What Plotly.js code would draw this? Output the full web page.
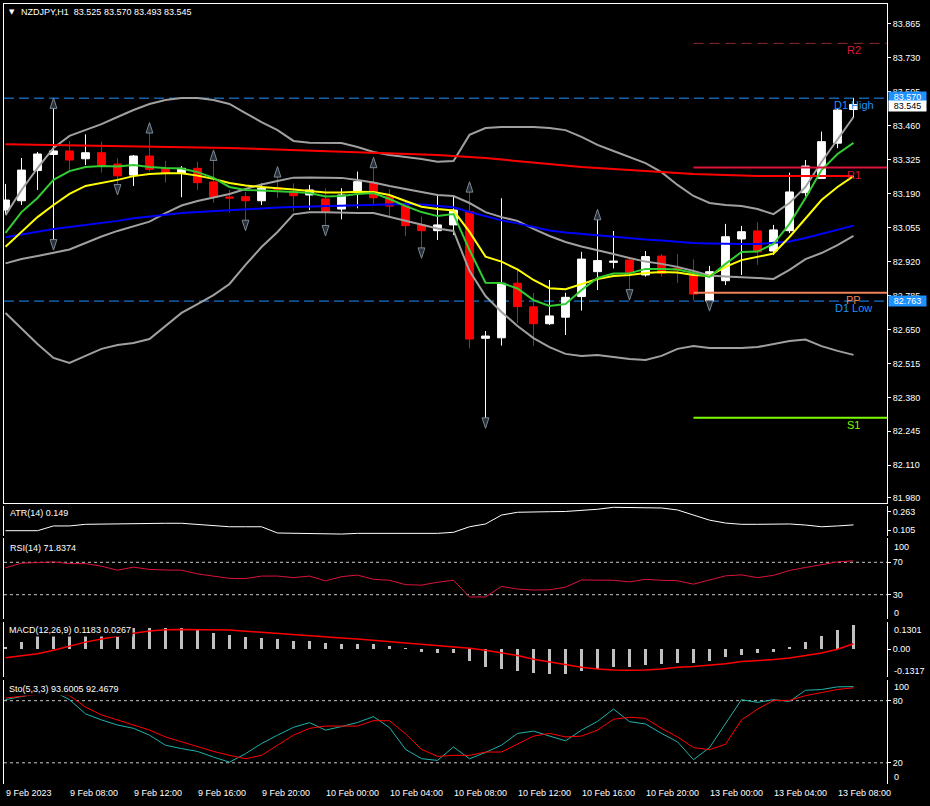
<!DOCTYPE html>
<html><head><meta charset="utf-8">
<script src="https://cdn.plot.ly/plotly-3.0.1.min.js"></script>
<style>html,body{margin:0;padding:0;background:#000;overflow:hidden}#chart{width:930px;height:806px}</style>
</head><body><div id="chart"></div>
<script>
// ---------------- DATA ----------------
const symbolTitle = 'NZDJPY,H1';
const timeLabels = ['9 Feb 2023','9 Feb 08:00','9 Feb 12:00','9 Feb 16:00','9 Feb 20:00','10 Feb 00:00','10 Feb 04:00','10 Feb 08:00','10 Feb 12:00','10 Feb 16:00','10 Feb 20:00','13 Feb 00:00','13 Feb 04:00','13 Feb 08:00'];
const timeLabelBars = [0,4,8,12,16,20,24,28,32,36,40,44,48,52];

const open  = [83.125,83.162,83.282,83.346,83.360,83.329,83.353,83.308,83.264,83.340,
               83.291,83.272,83.291,83.237,83.177,83.178,83.162,83.213,83.198,83.185,
               83.169,83.129,83.201,83.234,83.178,83.141,83.066,83.043,83.066,83.119,
               82.615,82.617,82.834,82.740,82.673,82.699,82.781,82.880,82.917,82.926,
               82.867,82.942,82.895,82.876,82.763,82.844,83.010,83.042,82.962,83.043,
               83.194,83.251,83.391,83.525];
const high  = [83.229,83.332,83.356,83.531,83.400,83.426,83.397,83.331,83.344,83.433,
               83.321,83.300,83.317,83.324,83.205,83.198,83.231,83.258,83.231,83.225,
               83.212,83.212,83.278,83.295,83.208,83.158,83.099,83.189,83.177,83.198,
               82.644,83.172,82.893,82.796,82.847,82.796,82.959,83.088,83.042,82.934,
               82.962,82.950,82.950,82.929,82.903,83.070,83.062,83.076,83.066,83.274,
               83.324,83.437,83.531,83.570];
const low   = [83.109,83.145,83.205,83.006,83.284,83.304,83.274,83.225,83.221,83.278,
               83.234,83.176,83.205,83.154,83.115,83.083,83.145,83.173,83.119,83.125,
               83.062,83.088,83.132,83.149,83.101,83.022,82.973,83.006,83.026,82.575,
               82.297,82.586,82.675,82.586,82.668,82.628,82.725,82.807,82.893,82.807,
               82.860,82.860,82.835,82.765,82.763,82.827,82.867,82.907,82.946,83.033,
               83.181,83.249,83.371,83.493];
const close = [83.165,83.284,83.348,83.360,83.324,83.353,83.304,83.261,83.340,83.287,
               83.271,83.291,83.234,83.178,83.173,83.162,83.212,83.207,83.182,83.205,
               83.119,83.185,83.238,83.174,83.141,83.063,83.043,83.066,83.125,82.612,
               82.624,82.834,82.741,82.673,82.704,82.778,82.930,82.924,82.922,82.876,
               82.940,82.874,82.887,82.791,82.880,83.019,83.039,82.959,83.046,83.197,
               83.300,83.397,83.523,83.545];

const maRed    = [83.387,83.386,83.386,83.385,83.384,83.384,83.383,83.381,83.380,83.379,
                  83.378,83.376,83.375,83.373,83.372,83.370,83.368,83.366,83.364,83.362,
                  83.360,83.358,83.356,83.354,83.352,83.350,83.348,83.344,83.340,83.337,
                  83.332,83.326,83.320,83.314,83.308,83.300,83.296,83.292,83.288,83.282,
                  83.278,83.274,83.271,83.268,83.266,83.263,83.262,83.260,83.260,83.260,
                  83.260,83.260,83.260,83.260];
const maBlue   = [83.017,83.028,83.040,83.050,83.058,83.066,83.072,83.082,83.092,83.099,
                  83.107,83.113,83.117,83.121,83.125,83.129,83.132,83.135,83.137,83.139,
                  83.141,83.143,83.145,83.147,83.149,83.149,83.147,83.143,83.136,83.117,
                  83.099,83.084,83.072,83.058,83.044,83.036,83.030,83.024,83.019,83.014,
                  83.008,83.004,82.999,82.994,82.992,82.990,82.990,82.990,82.994,83.000,
                  83.014,83.030,83.046,83.063];
const maYellow = [82.979,83.038,83.097,83.145,83.189,83.221,83.233,83.245,83.260,83.268,
                  83.271,83.271,83.262,83.249,83.233,83.223,83.217,83.213,83.207,83.201,
                  83.195,83.195,83.198,83.197,83.185,83.161,83.138,83.129,83.123,83.038,
                  82.940,82.920,82.889,82.847,82.814,82.810,82.831,82.851,82.863,82.867,
                  82.875,82.879,82.877,82.867,82.863,82.899,82.926,82.938,82.952,83.018,
                  83.093,83.165,83.217,83.260];
const maGreen  = [83.034,83.117,83.173,83.245,83.280,83.296,83.300,83.298,83.304,83.296,
                  83.292,83.290,83.276,83.253,83.217,83.205,83.203,83.201,83.197,83.193,
                  83.179,83.181,83.189,83.193,83.169,83.141,83.117,83.101,83.109,82.966,
                  82.836,82.835,82.813,82.767,82.744,82.751,82.807,82.855,82.873,82.874,
                  82.891,82.891,82.889,82.875,82.859,82.911,82.958,82.960,82.990,83.070,
                  83.173,83.284,83.348,83.392];
const bbUpper  = [83.105,83.205,83.292,83.372,83.420,83.443,83.467,83.495,83.523,83.547,
                  83.563,83.571,83.571,83.563,83.547,83.511,83.475,83.443,83.400,83.393,
                  83.393,83.392,83.376,83.356,83.344,83.336,83.328,83.317,83.320,83.424,
                  83.451,83.455,83.455,83.455,83.451,83.443,83.416,83.384,83.360,83.336,
                  83.312,83.276,83.225,83.181,83.153,83.145,83.141,83.129,83.109,83.153,
                  83.217,83.316,83.408,83.495];
const bbMiddle = [82.913,82.930,82.942,82.954,82.968,82.994,83.020,83.042,83.060,83.079,
                  83.113,83.143,83.161,83.175,83.189,83.209,83.227,83.241,83.254,83.255,
                  83.255,83.253,83.245,83.235,83.221,83.209,83.197,83.185,83.181,83.153,
                  83.117,83.097,83.082,83.050,83.022,82.998,82.980,82.966,82.950,82.934,
                  82.920,82.911,82.899,82.883,82.865,82.861,82.859,82.855,82.851,82.887,
                  82.930,82.954,82.986,83.022];
const bbLower  = [82.716,82.656,82.592,82.537,82.517,82.545,82.573,82.588,82.596,82.612,
                  82.664,82.716,82.751,82.787,82.831,82.907,82.978,83.038,83.108,83.116,
                  83.116,83.113,83.113,83.113,83.097,83.082,83.066,83.052,83.042,82.883,
                  82.783,82.720,82.664,82.616,82.580,82.553,82.545,82.549,82.541,82.533,
                  82.529,82.545,82.573,82.584,82.576,82.576,82.576,82.580,82.592,82.604,
                  82.610,82.584,82.565,82.549];

const fractalUpBars   = [3, 9, 13, 17, 23, 29, 37];
const fractalDownBars = [3, 7, 15, 20, 26, 30, 39, 44];

const d1High = 83.570, d1Low = 82.763;
const pivotR2 = 83.788, pivotR1 = 83.294, pivotPP = 82.796, pivotS1 = 82.299;
const pivotStartBar = 43;

const priceTicks = [83.865,83.730,83.595,83.460,83.325,83.190,83.055,82.920,82.785,82.650,82.515,82.380,82.245,82.110,81.980];

const atr = [0.099,0.099,0.099,0.140,0.140,0.154,0.157,0.157,0.163,0.163,
             0.163,0.163,0.154,0.146,0.133,0.133,0.133,0.079,0.076,0.070,
             0.070,0.070,0.076,0.076,0.076,0.076,0.076,0.076,0.085,0.133,
             0.157,0.234,0.258,0.263,0.263,0.265,0.275,0.284,0.301,0.301,
             0.301,0.295,0.278,0.234,0.190,0.165,0.154,0.154,0.154,0.157,
             0.148,0.133,0.140,0.149];
const rsi = [63.2,69,69.6,70.5,68.4,68.4,65.2,60.3,64,61.2,
             60.5,60.3,55.7,52.7,50.2,49.9,53,53,51.1,53,
             47,52.3,54.2,49,47.8,42.4,41.8,45.4,47.8,27.2,
             27.2,40.2,37,35.7,36.1,39.3,48.2,48,47.8,45.8,
             49,47.8,47.2,43,47.8,53.3,54.5,51.1,53.9,59.9,
             63.6,66.6,70.5,71.8];
const macdMain = [0.013,0.037,0.070,0.085,0.092,0.098,0.102,0.104,0.104,0.102,
                  0.102,0.102,0.094,0.081,0.070,0.058,0.054,0.049,0.042,0.042,
                  0.032,0.026,0.026,0.026,0.016,0.005,-0.011,-0.016,-0.016,-0.055,
                  -0.084,-0.097,-0.104,-0.117,-0.122,-0.122,-0.104,-0.097,-0.084,-0.084,
                  -0.076,-0.071,-0.068,-0.068,-0.055,-0.039,-0.028,-0.019,-0.011,0.013,
                  0.037,0.065,0.094,0.118];
const macdSignal = [-0.041,-0.033,-0.022,-0.005,0.015,0.035,0.050,0.065,0.078,0.089,
                    0.095,0.097,0.097,0.097,0.094,0.088,0.082,0.077,0.071,0.066,
                    0.061,0.055,0.050,0.044,0.038,0.032,0.026,0.020,0.013,0.005,
                    -0.005,-0.016,-0.030,-0.048,-0.062,-0.076,-0.087,-0.096,-0.101,-0.102,
                    -0.101,-0.096,-0.088,-0.084,-0.078,-0.070,-0.060,-0.056,-0.050,-0.042,
                    -0.030,-0.018,0.000,0.027];
const stoMain = [81,84,87,89,81,67.3,61.4,56.5,53.3,46.7,
                 37,33.7,31,25.5,20.6,28.8,38.6,46.7,54.3,58.8,
                 51.6,55,59,64.6,54,33,24,22.3,35.3,23.9,
                 30,37,48.4,50.6,46,41.2,51.6,60,71.9,59.8,
                 57.5,48.4,40.2,23,34.7,58.2,81,78.4,81,79.3,
                 90.1,90.8,93.4,93.6];
const stoSignal = [82.6,84.5,86,87.5,85,73.8,66.3,61.4,56.5,51.6,
                   45,40.2,35.3,31,27.2,23.9,27.2,37,46.7,53.3,
                   55.5,55.5,55.5,60.7,60.7,48,33,26.2,27.2,27.2,
                   30.4,30.4,37.9,45.8,48.4,45,45.8,51.6,62.1,64,
                   63,53.3,45,34.7,32.7,37.9,61.4,71.9,80.3,80.3,
                   84.9,88.1,90.8,92.5];

// ---------------- LAYOUT HELPERS ----------------
const W = 930, H = 806;
const FONT = 'Liberation Sans, Arial, sans-serif';
const py = v => 1 - v / H;
const bars = close.map((_, i) => i);
const xLeft = -0.094, xRight = 55.094;
const fractalGap = 0.04;
const n = close.length;

function frame(extra) {
  return Object.assign({showline:true, mirror:true, linecolor:'#FFFFFF', linewidth:1,
    showgrid:false, zeroline:false, fixedrange:true, type:'linear'}, extra);
}
const tickFont = {family:FONT, size:9, color:'#FFFFFF'};

const traces = [];
traces.push({type:'candlestick', x:bars, open:open, high:high, low:low, close:close,
  xaxis:'x', yaxis:'y', hoverinfo:'skip', showlegend:false,
  increasing:{line:{color:'#FFFFFF', width:1}, fillcolor:'#FFFFFF'},
  decreasing:{line:{color:'#FF0000', width:1}, fillcolor:'#FF0000'}});
const line = (y, color, width, axis) => ({type:'scatter', mode:'lines', x:bars, y:y,
  xaxis:'x', yaxis:axis || 'y', line:{color:color, width:width}, hoverinfo:'skip', showlegend:false});
traces.push(line(bbUpper, '#A0A0A0', 2));
traces.push(line(bbMiddle, '#A0A0A0', 2));
traces.push(line(bbLower, '#A0A0A0', 2));
traces.push(line(maRed, '#FF0000', 2));
traces.push(line(maBlue, '#0000FF', 2));
traces.push(line(maYellow, '#FFFF00', 2));
traces.push(line(maGreen, '#32CD32', 2));

traces.push({type:'scatter', mode:'markers', x:fractalUpBars, y:fractalUpBars.map(i => high[i] + fractalGap),
  xaxis:'x', yaxis:'y', hoverinfo:'skip', showlegend:false,
  marker:{symbol:'arrow', size:11, angle:0, color:'#283038', line:{color:'#7C8896', width:1}}});
traces.push({type:'scatter', mode:'markers', x:fractalDownBars, y:fractalDownBars.map(i => low[i] - fractalGap),
  xaxis:'x', yaxis:'y', hoverinfo:'skip', showlegend:false,
  marker:{symbol:'arrow', size:11, angle:180, color:'#283038', line:{color:'#7C8896', width:1}}});

const pivot = (lvl, color, width, dash) => ({type:'scatter', mode:'lines', x:[pivotStartBar, xRight], y:[lvl, lvl],
  xaxis:'x', yaxis:'y', line:{color:color, width:width, dash:dash || 'solid'}, hoverinfo:'skip', showlegend:false});
traces.push(pivot(pivotR2, '#8E2A30', 1, '10px,6px'));
traces.push(pivot(pivotR1, '#DC143C', 2));
traces.push(pivot(pivotPP, '#F4805A', 2));
traces.push(pivot(pivotS1, '#7CFC00', 2));

traces.push(line(atr, '#FFFFFF', 1, 'y2'));
traces.push(line(rsi, '#DC143C', 1, 'y3'));
traces.push({type:'bar', x:bars, y:macdMain, xaxis:'x', yaxis:'y4', width:0.19,
  marker:{color:'#C0C0C0', line:{width:0}}, hoverinfo:'skip', showlegend:false});
traces.push(line(macdSignal, '#FF0000', 1.5, 'y4'));
traces.push(line(stoMain, '#20B2AA', 1, 'y5'));
traces.push(line(stoSignal, '#FF0000', 1, 'y5'));

const ann = [];
const txt = (o) => ann.push(Object.assign({showarrow:false, font:{family:FONT, size:9, color:'#FFFFFF'}}, o));
// title & indicator names (opaque, as the terminal draws them over the lines)
txt({xref:'paper', yref:'paper', x:0, xshift:3, y:py(12), xanchor:'left', yanchor:'middle', text:'\u25BC', font:{family:'DejaVu Sans', size:7, color:'#FFFFFF'}});
txt({xref:'paper', yref:'paper', x:0, xshift:15, y:py(12), xanchor:'left', yanchor:'middle',
  text: symbolTitle + '\u00a0\u00a0' + [open[n-1], high[n-1], low[n-1], close[n-1]].map(v => v.toFixed(3)).join(' ')});
const ilabel = (yPx, t, xs) => txt({xref:'paper', yref:'paper', x:0, xshift:xs, y:py(yPx), xanchor:'left', yanchor:'middle', text:t, bgcolor:'#000000', borderpad:1});
ilabel(513, 'ATR(14) ' + atr[n-1].toFixed(3), 4);
ilabel(547.5, 'RSI(14) 71.8374', 4);
ilabel(630, 'MACD(12,26,9) 0.1183 0.0267', 3);
ilabel(688.5, 'Sto(5,3,3) 93.6005 92.4679', 3);
// time labels
timeLabels.forEach((t, i) => txt({xref:'x', yref:'paper', x:timeLabelBars[i], xshift:-2, y:py(793), xanchor:'left', yanchor:'middle', text:t}));
// pivot / D1 labels
const plabel = (lvl, t, color) => txt({xref:'x', yref:'y', x:n-1, y:lvl, yanchor:'top', yshift:1, xanchor:'center', text:t, font:{family:FONT, size:11, color:color}});
plabel(pivotR2, 'R2', '#DC143C');
plabel(pivotR1, 'R1', '#DC143C');
plabel(pivotPP, 'PP', '#F4805A');
plabel(pivotS1, 'S1', '#7CFC00');
plabel(d1High, 'D1 High', '#1E90FF');
plabel(d1Low, 'D1 Low', '#1E90FF');
// right price boxes
const box = (v, yshift, bg, fg) => txt({xref:'paper', yref:'y', x:1, xanchor:'left', xshift:1, y:v, yshift:yshift, yanchor:'middle',
  text:v.toFixed(3), bgcolor:bg, borderpad:0, width:37, height:10, align:'center', font:{family:FONT, size:9, color:fg}});
box(d1High, 1, '#1E90FF', '#FFFFFF');
box(close[n-1], -2, '#FFFFFF', '#000000');
box(d1Low, 0, '#1E90FF', '#FFFFFF');
// pushed edge labels of oscillator windows
const edge = (axis, v, t, ys) => txt({xref:'paper', yref:axis, x:1, xanchor:'left', xshift:5, y:v, yshift:ys, yanchor:'middle', text:t});
edge('y3', 100, '100', -8.5); edge('y3', 0, '0', 6.5);
edge('y4', 0.1354, '0.1301', -8.5); edge('y4', -0.1349, '-0.1317', 6.5);
edge('y5', 100, '100', -6.7); edge('y5', 0, '0', 6.8);

const shapes = [];
const hline = (axis, v, color, dash) => shapes.push({type:'line', xref:'paper', x0:0, x1:1, yref:axis, y0:v, y1:v,
  line:{color:color, width:1, dash:dash}, layer:'below'});
hline('y', d1High, '#1E90FF', '10px,5px');
hline('y', d1Low, '#1E90FF', '10px,5px');
hline('y3', 70, '#C8C8C8', 'dot'); hline('y3', 30, '#C8C8C8', 'dot');
hline('y5', 80, '#C8C8C8', 'dot'); hline('y5', 20, '#C8C8C8', 'dot');

const ytick = {side:'right', ticks:'outside', ticklen:3, tickcolor:'#FFFFFF', tickfont:tickFont};
const layout = {
  width:W, height:H, margin:{l:4, r:43, t:0, b:0},
  paper_bgcolor:'#000000', plot_bgcolor:'rgba(0,0,0,0)', showlegend:false, bargap:0,
  xaxis: frame({domain:[0,1], anchor:'y', range:[xLeft, xRight], showticklabels:false, ticks:'', rangeslider:{visible:false}}),
  xaxis2: frame({matches:'x', anchor:'y2', showticklabels:false, ticks:''}),
  xaxis3: frame({matches:'x', anchor:'y3', showticklabels:false, ticks:''}),
  xaxis4: frame({matches:'x', anchor:'y4', showticklabels:false, ticks:''}),
  xaxis5: frame({matches:'x', anchor:'y5', showticklabels:false, ticks:'outside', ticklen:4, tickcolor:'#FFFFFF', tickvals:timeLabelBars}),
  yaxis: frame(Object.assign({domain:[py(503), py(3.5)], anchor:'x', range:[81.960, 83.9465],
    tickvals:priceTicks, ticktext:priceTicks.map(v => v.toFixed(3))}, ytick)),
  yaxis2: frame(Object.assign({domain:[py(535.5), py(505.5)], anchor:'x2', range:[0.0575, 0.3165],
    tickvals:[0.263, 0.105], ticktext:['0.263','0.105']}, ytick)),
  yaxis3: frame(Object.assign({domain:[py(619), py(538)], anchor:'x3', range:[0, 100],
    tickvals:[70, 30], ticktext:['70','30']}, ytick)),
  yaxis4: frame(Object.assign({domain:[py(677), py(621.5)], anchor:'x4', range:[-0.1349, 0.1354],
    tickvals:[0], ticktext:['0.00']}, ytick)),
  yaxis5: frame(Object.assign({domain:[py(783.5), py(680)], anchor:'x5', range:[0, 100],
    tickvals:[80, 20], ticktext:['80','20']}, ytick)),
  annotations: ann, shapes: shapes
};
Plotly.newPlot('chart', traces, layout, {staticPlot:true, displayModeBar:false});
</script></body></html>
